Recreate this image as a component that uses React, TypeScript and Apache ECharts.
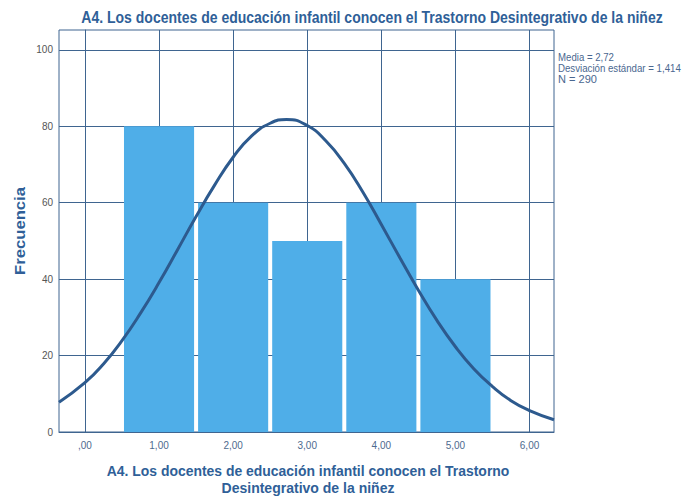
import React, { useEffect, useRef } from "react";
import * as echarts from "echarts";

const binCenters = [1, 2, 3, 4, 5];
const frequencies = [80, 60, 50, 60, 40];
const xTicks = [0, 1, 2, 3, 4, 5, 6];
const xTickLabels = [",00", "1,00", "2,00", "3,00", "4,00", "5,00", "6,00"];
const yTicks = [0, 20, 40, 60, 80, 100];
// normal curve values
const curveX = [-0.35, 0, 0.25, 0.5, 0.75, 1, 1.25, 1.5, 1.75, 2, 2.25, 2.5, 2.72, 3, 3.25, 3.5, 3.75, 4, 4.25, 4.5, 4.75, 5, 5.25, 5.5, 5.75, 6, 6.33];
const curveY = [7.8, 12.9, 17.8, 23.9, 31.1, 39.1, 47.7, 56.4, 64.6, 71.9, 77.5, 80.8, 81.8, 80.2, 76.2, 70.3, 62.8, 54.3, 45.6, 37.1, 29.2, 22.3, 16.5, 11.9, 8.2, 5.6, 3.2];
const statsLines = ["Media = 2,72", "Desviación estándar = 1,414", "N = 290"];
const title = "A4. Los docentes de educación infantil conocen el Trastorno Desintegrativo de la niñez";
const xNameLines = ["A4. Los docentes de educación infantil conocen el Trastorno", "Desintegrativo de la niñez"];
const yName = "Frecuencia";

const FONT = "'Liberation Sans', Arial, sans-serif";
const LINE = "#3F6590";
const TEXT_BLUE = "#2F5F98";

function measure(text: string, size: number, weight: string): number {
  const c = document.createElement("canvas");
  const ctx = c.getContext("2d");
  if (!ctx) return text.length * size * 0.55;
  ctx.font = `${weight} ${size}px 'Liberation Sans', Arial, sans-serif`;
  return ctx.measureText(text).width;
}

function fitText(text: string, x: number, y: number, size: number, weight: string, fill: string, align: string, targetW: number, rotation = 0) {
  const w = measure(text, size, weight);
  const s = targetW / w;
  return {
    type: "text",
    x,
    y,
    rotation,
    scaleX: rotation ? 1 : s,
    scaleY: rotation ? s : 1,
    style: {
      text,
      fontFamily: FONT,
      fontSize: size,
      fontWeight: weight,
      fill,
      align,
      verticalAlign: "middle",
    },
  };
}

export default function App() {
  const ref = useRef<HTMLDivElement>(null);
  useEffect(() => {
    if (!ref.current) return;
    const chart = echarts.init(ref.current, null, { renderer: "svg" });
    const yNameEl: any = fitText(yName, 20, 231, 15, "bold", TEXT_BLUE, "center", 88, Math.PI / 2);
    // for rotated text, compress along text direction (local x)
    yNameEl.scaleX = yNameEl.scaleY;
    yNameEl.scaleY = 1;
    chart.setOption({
      animation: false,
      backgroundColor: "#ffffff",
      textStyle: { fontFamily: FONT },
      grid: {
        left: 59,
        right: 129,
        top: 30,
        bottom: 71,
        show: true,
        borderColor: LINE,
        borderWidth: 1,
        containLabel: false,
      },
      xAxis: {
        type: "value",
        min: -0.35,
        max: 6.33,
        axisLine: { show: true, lineStyle: { color: LINE } },
        axisTick: { show: false, customValues: xTicks },
        axisLabel: {
          customValues: xTicks,
          formatter: (v: number) => {
            const i = xTicks.indexOf(Math.round(v));
            return i >= 0 ? xTickLabels[i] : "";
          },
          color: "#4E6A8E",
          fontSize: 10,
          margin: 8,
          fontFamily: FONT,
        },
        splitLine: { show: true, lineStyle: { color: LINE, width: 1 } },
      },
      yAxis: {
        type: "value",
        min: 0,
        max: 105.2,
        interval: 20,
        axisLine: { show: true, lineStyle: { color: LINE } },
        axisTick: { show: false, customValues: yTicks },
        axisLabel: {
          customValues: yTicks,
          color: "#555555",
          fontSize: 10,
          margin: 6,
          fontFamily: FONT,
        },
        splitLine: { show: true, lineStyle: { color: LINE, width: 1 } },
      },
      graphic: [
        fitText(title, 372, 17, 16, "bold", TEXT_BLUE, "center", 582),
        yNameEl,
        fitText(xNameLines[0], 308, 471, 15, "bold", TEXT_BLUE, "center", 403),
        fitText(xNameLines[1], 308, 488, 15, "bold", TEXT_BLUE, "center", 173),
        fitText(statsLines[0], 558, 57, 10, "normal", "#4A6790", "left", 56),
        fitText(statsLines[1], 558, 68, 10, "normal", "#4A6790", "left", 123),
        fitText(statsLines[2], 558, 79, 10, "normal", "#4A6790", "left", 39),
      ],
      series: [
        {
          type: "custom",
          z: 2,
          data: binCenters.map((c, i) => [c, frequencies[i]]),
          renderItem: (params: any, api: any) => {
            const c = api.value(0);
            const h = api.value(1);
            const p0 = api.coord([c - 0.5, h]);
            const p1 = api.coord([c + 0.5, 0]);
            return {
              type: "rect",
              shape: { x: p0[0] + 2, y: p0[1], width: p1[0] - p0[0] - 4, height: p1[1] - p0[1] },
              style: { fill: "#4FAEE8" },
            };
          },
        },
        {
          type: "line",
          z: 3,
          smooth: true,
          showSymbol: false,
          data: curveX.map((x, i) => [x, curveY[i]]),
          lineStyle: { color: "#2D5A8E", width: 3 },
        },
      ],
    });
    return () => chart.dispose();
  }, []);
  return <div ref={ref} style={{ width: 683, height: 503, position: "absolute", left: 0, top: 0 }} />;
}
